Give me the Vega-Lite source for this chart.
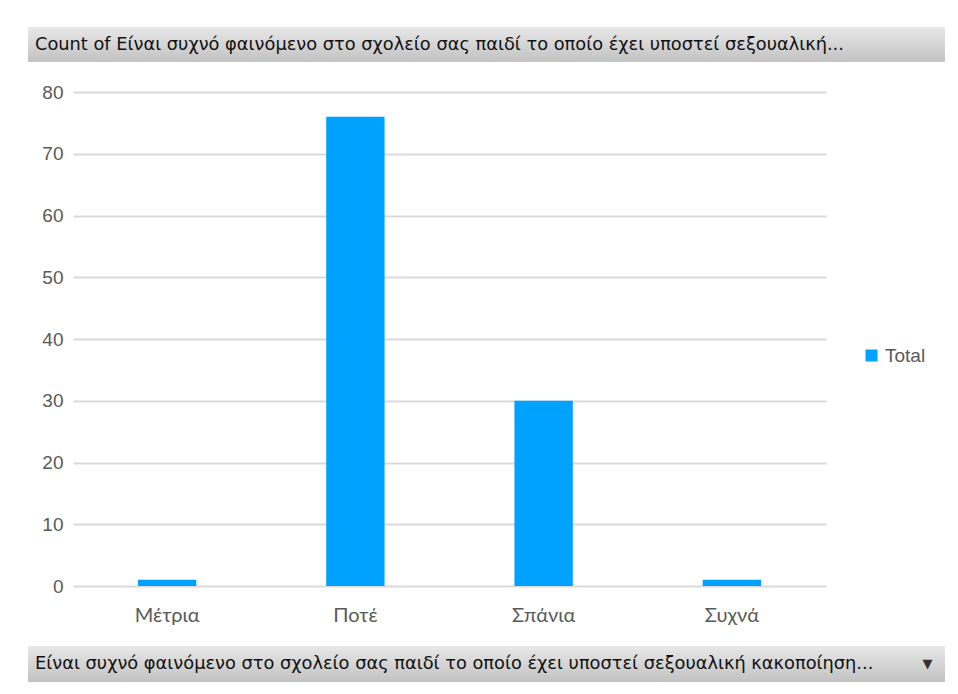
{
  "$schema": "https://vega.github.io/schema/vega-lite/v6.json",
  "background": "white",
  "padding": {"left": 28, "top": 27, "right": 0, "bottom": 0},
  "spacing": 21,
  "config": {
    "view": {"stroke": null},
    "font": "Liberation Sans"
  },
  "resolve": {"legend": {"color": "independent"}},
  "vconcat": [
    {
      "width": 917,
      "height": 35,
      "data": {"values": [{"label": "Count of Είναι συχνό φαινόμενο στο σχολείο σας παιδί το οποίο έχει υποστεί σεξουαλική..."}]},
      "layer": [
        {
          "mark": {"type": "rect", "color": {"gradient": "linear", "x1": 0, "y1": 0, "x2": 0, "y2": 1, "stops": [{"offset": 0, "color": "#e8e8e8"}, {"offset": 1, "color": "#c2c2c2"}]}},
          "encoding": {
            "x": {"datum": 0, "type": "quantitative", "scale": {"domain": [0, 1]}, "axis": null},
            "x2": {"datum": 1},
            "y": {"datum": 0, "type": "quantitative", "scale": {"domain": [0, 1]}, "axis": null},
            "y2": {"datum": 1}
          }
        },
        {
          "mark": {"type": "text", "align": "left", "baseline": "middle", "dx": 7, "font": "DejaVu Sans", "fontSize": 17.8, "color": "#111111"},
          "encoding": {
            "x": {"datum": 0, "type": "quantitative"},
            "y": {"datum": 0.5, "type": "quantitative"},
            "text": {"field": "label"}
          }
        }
      ]
    },
    {
      "spacing": 0,
      "resolve": {"legend": {"color": "independent"}},
      "hconcat": [
        {
          "width": 1,
          "height": 494,
          "data": {"values": [{}]},
          "mark": {"type": "rect", "opacity": 0},
          "encoding": {}
        },
        {
          "width": 753,
          "height": 494,
          "data": {"values": [
            {"category": "Μέτρια", "count": 1, "series": "Total"},
            {"category": "Ποτέ", "count": 76, "series": "Total"},
            {"category": "Σπάνια", "count": 30, "series": "Total"},
            {"category": "Συχνά", "count": 1, "series": "Total"}
          ]},
          "mark": {"type": "bar"},
          "encoding": {
            "x": {
              "field": "category", "type": "nominal", "sort": null,
              "scale": {"paddingInner": 0.69, "paddingOuter": 0.345},
              "axis": {"title": null, "labelAngle": 0, "labelFontSize": 20, "labelColor": "#595959", "labelPadding": 19, "ticks": false, "domain": false, "labelFont": "Lato"}
            },
            "y": {
              "field": "count", "type": "quantitative",
              "scale": {"domain": [0, 80], "nice": false},
              "axis": {"title": null, "values": [0, 10, 20, 30, 40, 50, 60, 70, 80], "labelFontSize": 19, "labelColor": "#595959", "labelPadding": 10, "ticks": false, "domain": false, "gridColor": "#d9d9d9", "gridWidth": 2, "minExtent": 44, "labelFont": "Liberation Sans"}
            },
            "color": {
              "field": "series", "type": "nominal",
              "scale": {"range": ["#00A2FF"]},
              "legend": {"title": null, "orient": "none", "legendX": 789, "legendY": 254, "symbolType": "square", "symbolSize": 144, "symbolStrokeWidth": 0, "labelFontSize": 19, "labelColor": "#595959", "labelFont": "Liberation Sans", "symbolOffset": 0}
            }
          }
        }
      ]
    },
    {
      "width": 917,
      "height": 36,
      "data": {"values": [{"label": "Είναι συχνό φαινόμενο στο σχολείο σας παιδί το οποίο έχει υποστεί σεξουαλική κακοποίηση...", "arrow": "▼"}]},
      "layer": [
        {
          "mark": {"type": "rect", "color": {"gradient": "linear", "x1": 0, "y1": 0, "x2": 0, "y2": 1, "stops": [{"offset": 0, "color": "#e8e8e8"}, {"offset": 1, "color": "#c2c2c2"}]}},
          "encoding": {
            "x": {"datum": 0, "type": "quantitative", "scale": {"domain": [0, 1]}, "axis": null},
            "x2": {"datum": 1},
            "y": {"datum": 0, "type": "quantitative", "scale": {"domain": [0, 1]}, "axis": null},
            "y2": {"datum": 1}
          }
        },
        {
          "mark": {"type": "text", "align": "left", "baseline": "middle", "dx": 7, "font": "DejaVu Sans", "fontSize": 17.8, "color": "#111111"},
          "encoding": {
            "x": {"datum": 0, "type": "quantitative"},
            "y": {"datum": 0.5, "type": "quantitative"},
            "text": {"field": "label"}
          }
        },
        {
          "mark": {"type": "text", "align": "center", "baseline": "middle", "fontSize": 13, "font": "DejaVu Sans", "color": "#333333"},
          "encoding": {
            "x": {"datum": 0.981, "type": "quantitative"},
            "y": {"datum": 0.5, "type": "quantitative"},
            "text": {"field": "arrow"}
          }
        }
      ]
    }
  ]
}
